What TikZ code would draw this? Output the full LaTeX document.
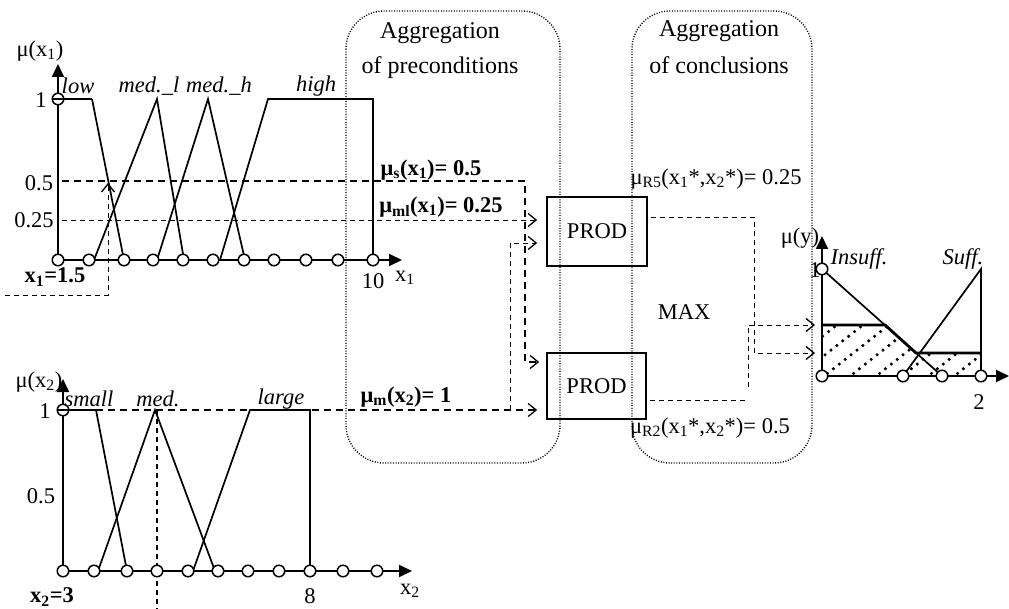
\documentclass[tikz,border=0pt]{standalone}
\usepackage{fontspec}
\setmainfont{Liberation Serif}
\usetikzlibrary{arrows.meta,calc}
\begin{document}
\begin{tikzpicture}[x=1pt,y=-1pt,
  lbl/.style={inner sep=0pt, font=\fontsize{22.5}{26}\selectfont},
  head/.style={inner sep=0pt, font=\fontsize{24}{28}\selectfont},
  axis/.style={line width=1.9pt, -{Triangle[length=13pt,width=12pt]}},
  mf/.style={line width=1.7pt},
  pt/.style={circle, draw, line width=1.5pt, fill=white, minimum size=11.5pt, inner sep=0pt},
  thickdash/.style={line width=1.7pt, dash pattern=on 7pt off 5pt},
  thindash/.style={line width=0.9pt, dash pattern=on 5pt off 4pt},
  barb/.style={-{Straight Barb[length=8pt,width=13pt,line width=1.3pt]}},
  groupbox/.style={line width=1.4pt, dash pattern=on 1pt off 1.6pt, rounded corners=38pt},
  prod/.style={draw, line width=1.7pt, inner sep=0pt, font=\fontsize{22.5}{26}\selectfont},
]
\useasboundingbox (0,0) rectangle (1009,609);

% ---------- group boxes ----------
\draw[groupbox] (346,11) rectangle (560,463);
\draw[groupbox] (632,11) rectangle (812,463);
\node[head] (h1a) at (440,33) {Aggregation};
\node[head] (h1b) at (440,68) {of preconditions};
\node[head] (h2a) at (719,31) {Aggregation};
\node[head] (h2b) at (719,65) {of conclusions};

% ---------- PROD / MAX ----------
\node[prod, minimum width=100pt, minimum height=69pt] (ptop) at (597,231.5) {PROD};
\node[prod, minimum width=99pt, minimum height=66pt] (pbot) at (596.5,386) {PROD};
\node[lbl] (max) at (684,312) {MAX};
\node[lbl] (r5) at (716,179) {μ\textsubscript{R5}(x\textsubscript{1}*,x\textsubscript{2}*)= 0.25};
\node[lbl] (r2) at (710,428) {μ\textsubscript{R2}(x\textsubscript{1}*,x\textsubscript{2}*)= 0.5};

% ---------- top chart (x1) ----------
\coordinate (o1) at (58,260);
\draw[mf] (92,99) -- (124,260);
\draw[mf] (94,260) -- (157,99) -- (184,260);
\draw[mf] (157,260) -- (208,99) -- (245,260);
\draw[mf] (220,260) -- (268,99) -- (373,99) -- (373,260);
\draw[axis] (o1) -- (58,64);
\draw[axis] (o1) -- (402,260);
\foreach \xx [count=\i] in {58,89,124,153,183,213,244,274,306,338,373}
  \node[pt] (a\i) at (\xx,260) {};
\node[pt] (atop) at (58,99) {};
\draw[mf] (atop.west) -- (92,99);

\node[lbl] (mux1) at (40,51) {μ(x\textsubscript{1})};
\node[lbl] (t1a) at (41,100) {1};
\node[lbl] (t05a) at (39,183) {0.5};
\node[lbl] (t025a) at (34,220) {0.25};
\node[lbl] (low) at (78,86) {\textit{low}};
\node[lbl] (medl) at (149,86) {\textit{med.\_l}};
\node[lbl] (medh) at (219,86) {\textit{med.\_h}};
\node[lbl] (high) at (316,86) {\textit{high}};
\node[lbl] (ten) at (373,281) {10};
\node[lbl] (xa1) at (405,278) {x\textsubscript{1}};
\node[lbl] (x1v) at (55,277) {\textbf{x\textsubscript{1}=1.5}};

% x1 = 1.5 indicator
\coordinate (x1s) at (5,295);
\draw[thindash, barb] (x1s) -- (108,295) -- (108,183);

% ---------- bottom chart (x2) ----------
\coordinate (o2) at (63,571);
\draw[mf] (96,410) -- (127,571);
\draw[mf] (98,571) -- (155,410) -- (215,571);
\draw[mf] (193,571) -- (250,410) -- (310,410) -- (310,571);
\draw[axis] (o2) -- (63,379);
\draw[axis] (o2) -- (412,571);
\draw[thindash, line width=1.1pt] (157,410) -- (157,609);
\foreach \xx [count=\i] in {63,94,127,157,188,218,248,279,310,343,377}
  \node[pt] (b\i) at (\xx,571) {};
\node[pt] (btop) at (63,410) {};
\draw[mf] (btop.west) -- (96,410);

\node[lbl] (mux2) at (39,382) {μ(x\textsubscript{2})};
\node[lbl] (t1b) at (45,411) {1};
\node[lbl] (t05b) at (41,496) {0.5};
\node[lbl] (small) at (89,399) {\textit{small}};
\node[lbl] (med) at (158,399) {\textit{med.}};
\node[lbl] (large) at (281,399) {\textit{large}};
\node[lbl] (eight) at (310,596) {8};
\node[lbl] (xa2) at (410,591) {x\textsubscript{2}};
\node[lbl] (x2v) at (52,597) {\textbf{x\textsubscript{2}=3}};

% ---------- connectors into PROD ----------
\node[lbl] (mus) at (431,170) {\textbf{μ\textsubscript{s}(x\textsubscript{1})= 0.5}};
\node[lbl] (muml) at (441,207) {\textbf{μ\textsubscript{ml}(x\textsubscript{1})= 0.25}};
\node[lbl] (mum) at (406,397) {\textbf{μ\textsubscript{m}(x\textsubscript{2})= 1}};

\draw[thickdash, barb] (62,181) -- (525,181) -- (525,362) -- ([xshift=-7pt]pbot.west |- 0,362);
\draw[thindash, barb] (62,220) -- ([xshift=-9pt]ptop.west |- 0,220);
\draw[thickdash, barb] (96,410) -- ([xshift=-9pt]pbot.west |- 0,410);
\draw[thindash, barb] (510,410) -- (510,243) -- ([xshift=-9pt]ptop.west |- 0,243);

% ---------- output chart (y) ----------
\coordinate (o3) at (822,376);
\begin{scope}
  \clip (822,376) -- (822,325) -- (885,325) -- (916,353) -- (981,353) -- (981,376) -- cycle;
  \foreach \k in {0,...,10}
    \draw[line width=3.4pt, line cap=round, dash pattern=on 0pt off 7.5pt]
      ({752+26*\k},392) -- ++(100,-79);
\end{scope}
\node[lbl] (muy) at (800,238) {μ(y)};
\node[lbl] (t1c) at (815,270) {1};
\node[lbl] (insuff) at (859,259) {\textit{Insuff.}};
\node[lbl] (suff) at (963,259) {\textit{Suff.}};
\node[lbl] (two) at (979,402) {2};
\draw[mf] (822,269) -- (942,376);
\draw[mf] (903,376) -- (981,269) -- (981,376);
\draw[line width=2.8pt] (822,325) -- (885,325) -- (916,353) -- (981,353);
\draw[axis] (o3) -- (822,236);
\draw[axis] (o3) -- (1009,376);
\foreach \xx [count=\i] in {822,903,942,981}
  \node[pt] (c\i) at (\xx,376) {};
\node[pt] (ctop) at (822,269) {};

% ---------- connectors out of PROD ----------
\coordinate (in05) at (815,325);
\coordinate (in025) at (815,353);
\draw[thindash, barb] ([xshift=3pt]ptop.east |- 0,217) -- (754,217) -- (754,353) -- (in025);
\draw[thindash] ([xshift=3pt]pbot.east |- 0,400) -- (745,400);
\draw[thindash, barb] (748,387) -- (748,325) -- (in05);
\end{tikzpicture}
\end{document}
